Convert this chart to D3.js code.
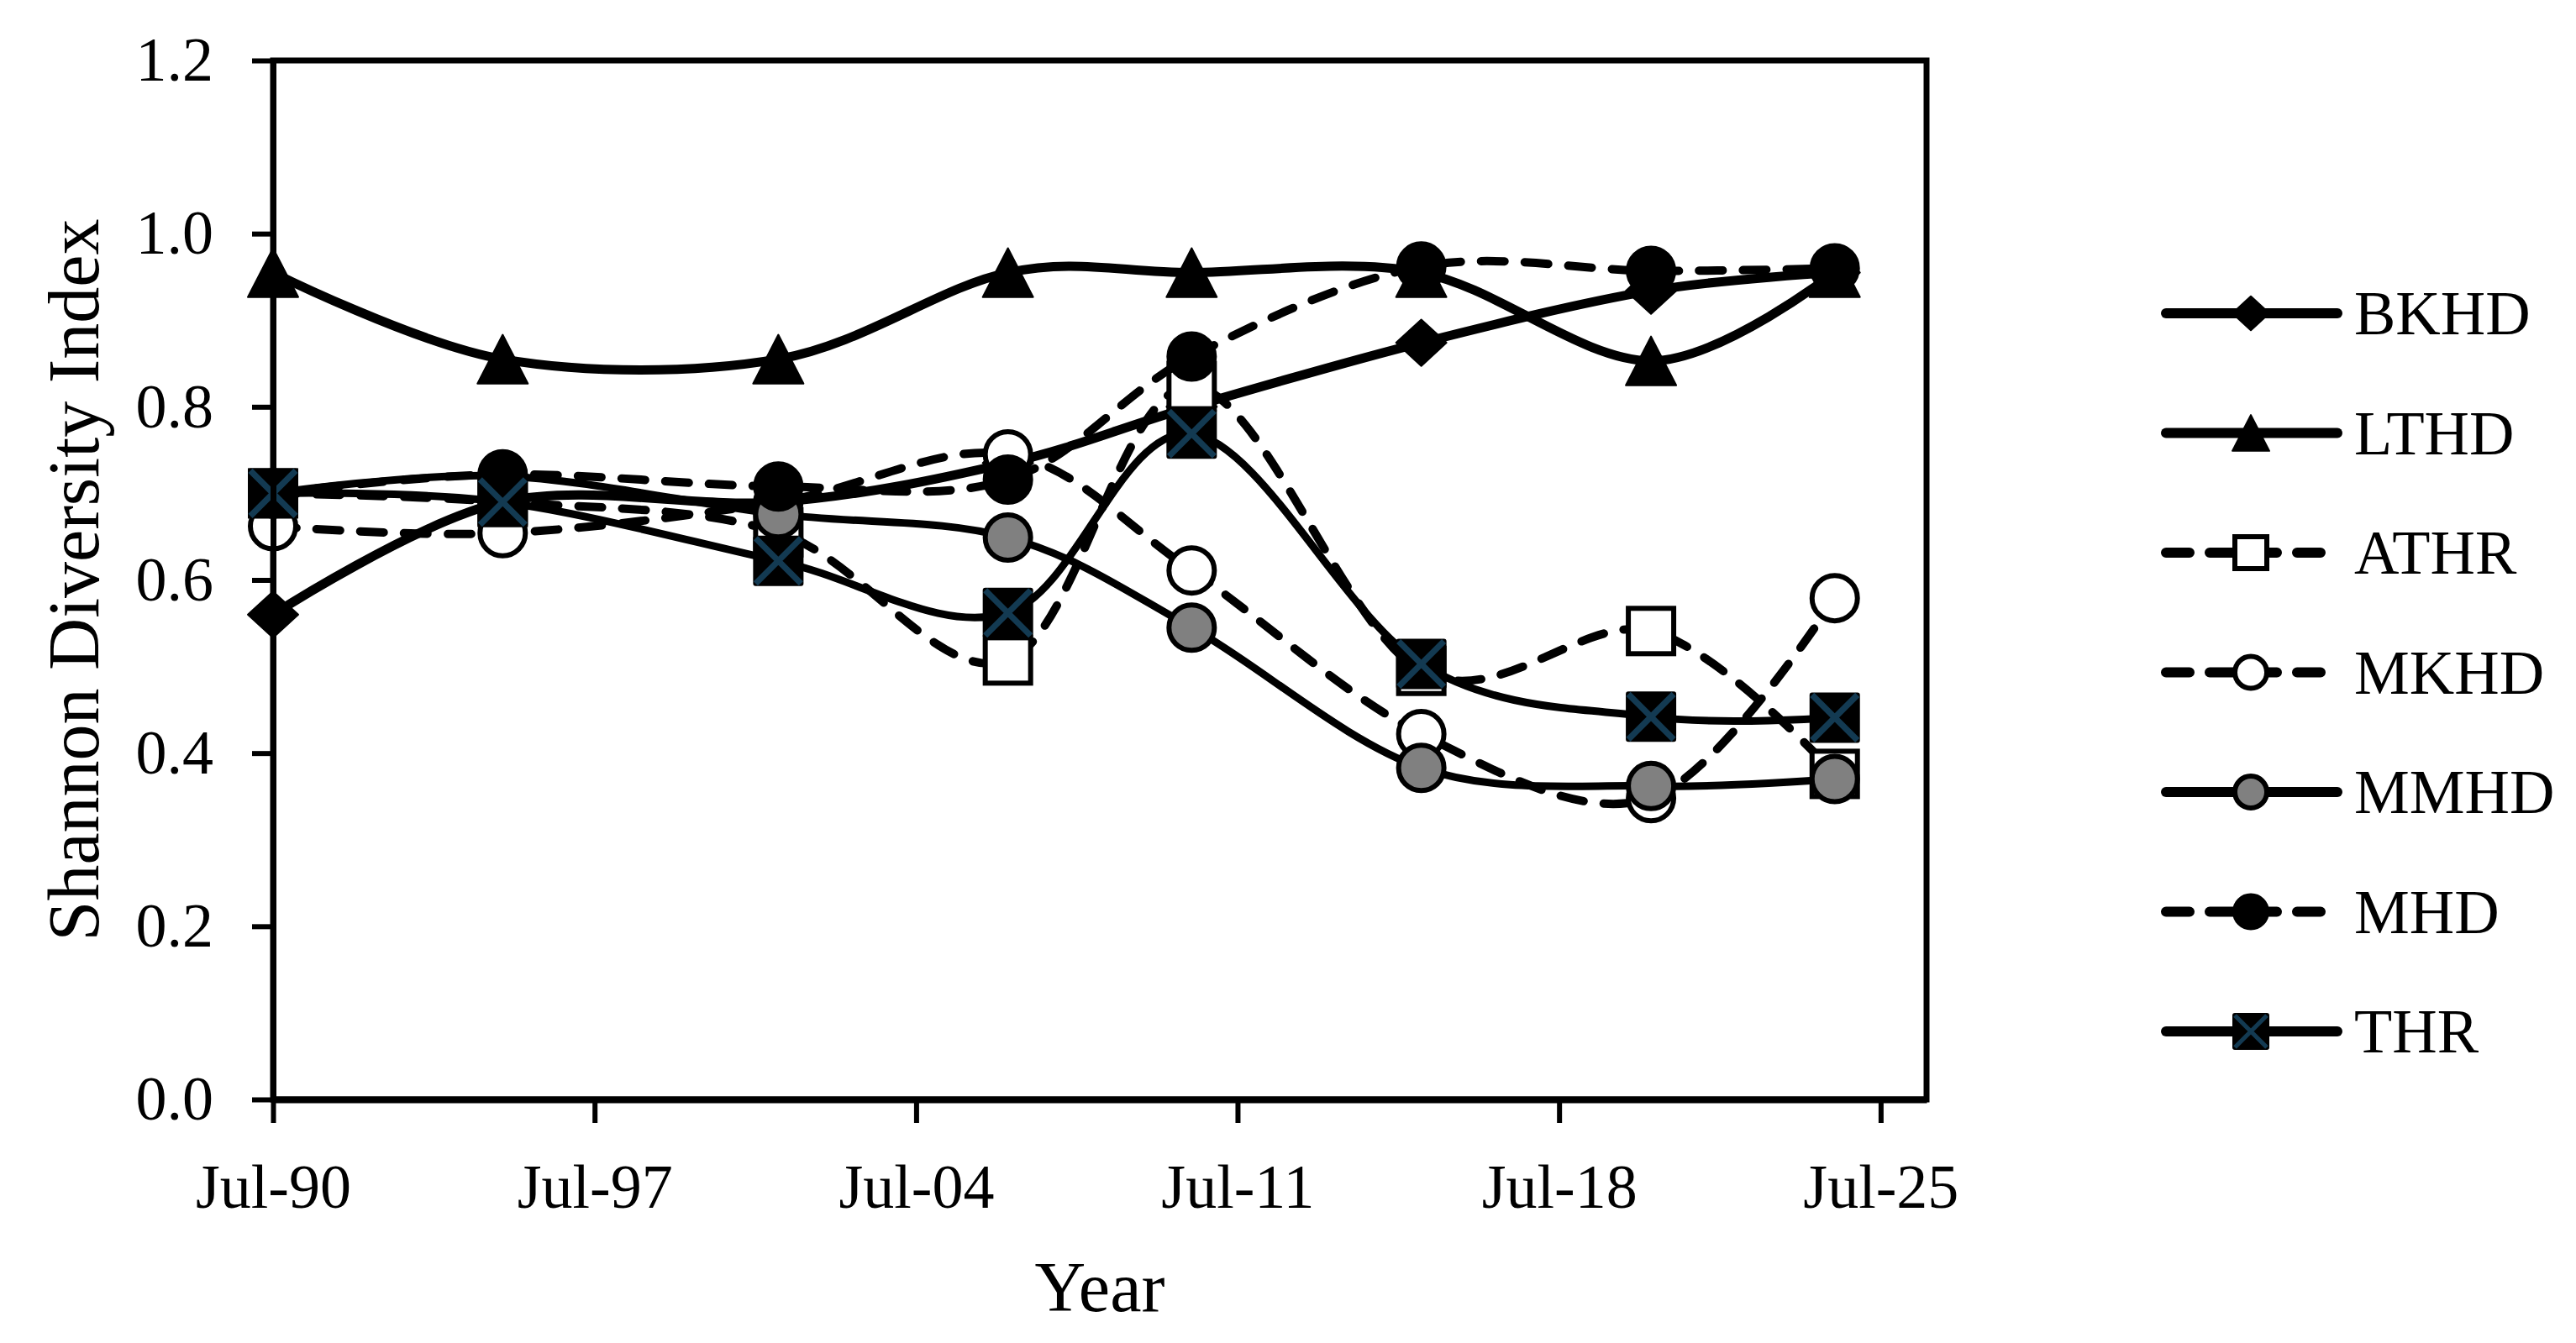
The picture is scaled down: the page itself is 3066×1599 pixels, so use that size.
<!DOCTYPE html>
<html>
<head>
<meta charset="utf-8">
<script src="https://cdnjs.cloudflare.com/ajax/libs/d3/7.8.5/d3.min.js"></script>
<style>
  body { margin: 0; background: #fff; }
  svg { display: block; }
</style>
</head>
<body>
<svg id="chart"></svg>
<script>
// sampling dates (month of survey) and the axis ticks
var sampleDates = ["1990-07", "1995-07", "2001-07", "2006-07", "2010-07", "2015-07", "2020-07", "2024-07"];
var tickDates = ["1990-07", "1997-07", "2004-07", "2011-07", "2018-07", "2025-07"];
var yTicks = [0, 0.2, 0.4, 0.6, 0.8, 1.0, 1.2];

// Shannon diversity index, one array per site
var BKHD = [0.56, 0.69, 0.69, 0.735, 0.80, 0.874, 0.934, 0.955];
var LTHD = [0.955, 0.855, 0.855, 0.955, 0.955, 0.955, 0.853, 0.955];
var ATHR = [0.70, 0.69, 0.655, 0.507, 0.824, 0.495, 0.541, 0.376];
var MKHD = [0.662, 0.654, 0.69, 0.745, 0.611, 0.422, 0.348, 0.579];
var MMHD = [0.70, 0.72, 0.676, 0.649, 0.545, 0.383, 0.362, 0.370];
var MHD  = [0.70, 0.722, 0.708, 0.716, 0.858, 0.962, 0.957, 0.960];
var THR  = [0.700, 0.690, 0.622, 0.562, 0.769, 0.503, 0.442, 0.441];

var W = 3066, H = 1599;
var plot = {left: 325, right: 2293, top: 72, bottom: 1309};
var FONT = "'Palatino Linotype', 'Book Antiqua', Palatino, 'Liberation Serif', 'Times New Roman', serif";
var XBLUE = "#133a52";
var DASH = "28,24";

var parse = d3.timeParse("%Y-%m");

var series = [
    {name: "BKHD", values: BKHD, marker: "diamond",  dashed: false, width: 11},
    {name: "LTHD", values: LTHD, marker: "triangle", dashed: false, width: 11},
    {name: "ATHR", values: ATHR, marker: "square",   dashed: true,  width: 10},
    {name: "MKHD", values: MKHD, marker: "open",     dashed: true,  width: 10},
    {name: "MMHD", values: MMHD, marker: "grey",     dashed: false, width: 9},
    {name: "MHD",  values: MHD,  marker: "filled",   dashed: true,  width: 10},
    {name: "THR",  values: THR,  marker: "xbox",     dashed: false, width: 9}
];

var svg = d3.select("#chart").attr("width", W).attr("height", H);

var x = d3.scaleTime()
    .domain([parse("1990-07"), parse("2026-07")])
    .range([plot.left, plot.right]);
var y = d3.scaleLinear()
    .domain([0, 1.2])
    .range([plot.bottom, plot.top]);

/**
 * Draws one marker shape centred on the origin of g.
 * s is the half size of the marker.
 */
var drawMarker = function (g, type, s) {
    if (type === "diamond") {
        g.append("path")
            .attr("d", "M0," + (-s * 0.92) + "L" + s + ",0L0," + (s * 0.92) + "L" + (-s) + ",0Z")
            .attr("fill", "#000").attr("stroke", "#000").attr("stroke-width", 2)
            .attr("stroke-linejoin", "round");
    } else if (type === "triangle") {
        g.append("path")
            .attr("d", "M0," + (-s * 0.97) + "L" + s + "," + (s * 0.97) + "L" + (-s) + "," + (s * 0.97) + "Z")
            .attr("fill", "#000").attr("stroke", "#000").attr("stroke-width", 2)
            .attr("stroke-linejoin", "round");
    } else if (type === "square") {
        g.append("rect")
            .attr("x", -s + 3).attr("y", -s + 3)
            .attr("width", 2 * s - 6).attr("height", 2 * s - 6)
            .attr("fill", "#fff").attr("stroke", "#000").attr("stroke-width", 6);
    } else if (type === "open" || type === "grey" || type === "filled") {
        g.append("circle")
            .attr("r", s - 3)
            .attr("fill", type === "open" ? "#fff" : (type === "grey" ? "#808080" : "#000"))
            .attr("stroke", "#000").attr("stroke-width", 6);
    } else if (type === "xbox") {
        g.append("rect")
            .attr("x", -s + 1).attr("y", -s + 1)
            .attr("width", 2 * s - 2).attr("height", 2 * s - 2)
            .attr("rx", 2)
            .attr("fill", "#000").attr("stroke", "#000").attr("stroke-width", 2);
        var k = s - 3;
        g.append("path")
            .attr("d", "M" + (-k) + "," + (-k) + "L" + k + "," + k + "M" + k + "," + (-k) + "L" + (-k) + "," + k)
            .attr("stroke", XBLUE).attr("stroke-width", s * 0.24).attr("fill", "none");
    }
};

// frame of the plot area
svg.append("rect")
    .attr("x", plot.left).attr("y", plot.top)
    .attr("width", plot.right - plot.left).attr("height", plot.bottom - plot.top)
    .attr("fill", "none").attr("stroke", "#000").attr("stroke-width", 7);

// series: line first, then its markers, later series on top
var line = d3.line()
    .x(function (d) { return x(d.date); })
    .y(function (d) { return y(d.value); })
    .curve(d3.curveCardinal.tension(0));

series.forEach(function (s) {
    var pts = s.values.map(function (v, i) { return {date: parse(sampleDates[i]), value: v}; });
    var g = svg.append("g").attr("class", "series " + s.name);
    g.append("path")
        .datum(pts)
        .attr("d", line)
        .attr("fill", "none")
        .attr("stroke", "#000")
        .attr("stroke-width", s.width)
        .attr("stroke-linecap", "round")
        .attr("stroke-linejoin", "round")
        .attr("stroke-dasharray", s.dashed ? DASH : null);
    pts.forEach(function (p) {
        var m = g.append("g").attr("transform", "translate(" + x(p.date) + "," + y(p.value) + ")");
        drawMarker(m, s.marker, 30);
    });
});

// axes
var xAxis = svg.append("g")
    .attr("transform", "translate(0," + plot.bottom + ")")
    .call(d3.axisBottom(x)
        .tickValues(tickDates.map(parse))
        .tickFormat(d3.timeFormat("%b-%y"))
        .tickSize(28)
        .tickSizeOuter(0)
        .tickPadding(48));
var yAxis = svg.append("g")
    .attr("transform", "translate(" + plot.left + ",0)")
    .call(d3.axisLeft(y)
        .tickValues(yTicks)
        .tickFormat(d3.format(".1f"))
        .tickSize(25)
        .tickSizeOuter(0)
        .tickPadding(46));

[xAxis, yAxis].forEach(function (a) {
    a.selectAll("path.domain").attr("stroke", "#000").attr("stroke-width", 7);
    a.selectAll(".tick line").attr("stroke", "#000").attr("stroke-width", 6);
    a.selectAll(".tick text")
        .attr("fill", "#000")
        .style("font-family", FONT)
        .style("font-size", "74px");
});
xAxis.select("path.domain").attr("stroke-width", 8);

// axis titles
svg.append("text")
    .attr("x", (plot.left + plot.right) / 2)
    .attr("y", 1561)
    .attr("text-anchor", "middle")
    .style("font-family", FONT)
    .style("font-size", "84px")
    .text("Year");

svg.append("text")
    .attr("transform", "translate(117," + ((plot.top + plot.bottom) / 2) + ") rotate(-90)")
    .attr("text-anchor", "middle")
    .style("font-family", FONT)
    .style("font-size", "86px")
    .text("Shannon Diversity Index");

// legend
var legend = svg.append("g").attr("class", "legend");
series.forEach(function (s, i) {
    var cy = 373 + i * 142.5;
    var row = legend.append("g").attr("transform", "translate(0," + cy + ")");
    row.append("line")
        .attr("x1", 2578).attr("x2", 2782)
        .attr("y1", 0).attr("y2", 0)
        .attr("stroke", "#000")
        .attr("stroke-width", 12)
        .attr("stroke-linecap", "round")
        .attr("stroke-dasharray", s.dashed ? DASH : null);
    var m = row.append("g").attr("transform", "translate(2679,0)");
    drawMarker(m, s.marker, 22);
    row.append("text")
        .attr("x", 2802)
        .attr("y", 25)
        .style("font-family", FONT)
        .style("font-size", "74px")
        .text(s.name);
});
</script>
</body>
</html>
